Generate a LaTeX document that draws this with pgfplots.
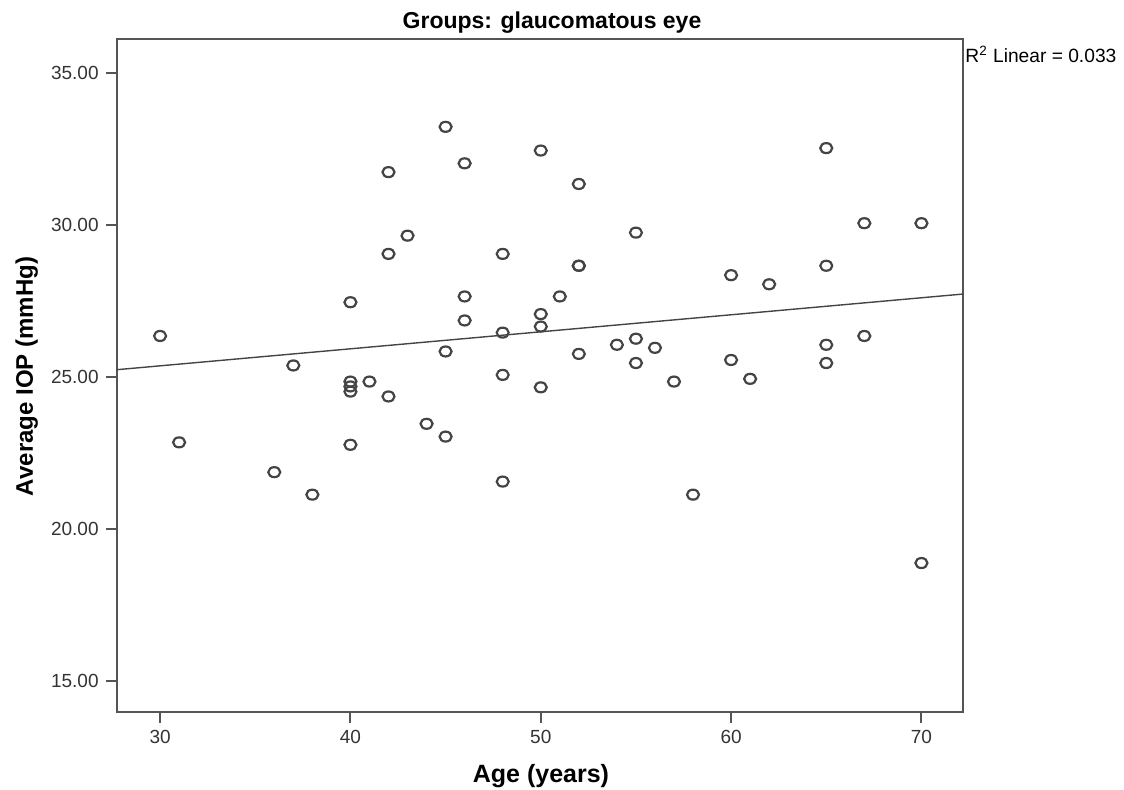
\documentclass[border=0pt]{standalone}
\usepackage{pgfplots}
\pgfplotsset{compat=1.18}
\usepackage{fontspec}
\setmainfont{Liberation Sans}
\definecolor{axgray}{HTML}{555555}
\definecolor{mkgray}{HTML}{444444}
\definecolor{txtgray}{HTML}{333333}

\pgfplotstableread{
x y
30 26.36
31 22.86
36 21.88
37 25.39
38 21.14
40 27.47
40 24.86
40 24.70
40 24.53
40 22.78
41 24.86
42 31.75
42 29.06
42 24.37
43 29.66
44 23.47
45 33.24
45 25.85
45 23.05
46 32.04
46 27.66
46 26.87
48 29.06
48 26.47
48 25.08
48 21.57
50 32.46
50 27.08
50 26.67
50 24.67
51 27.66
52 31.36
52 28.67
52 28.67
52 25.77
54 26.07
55 29.76
55 26.27
55 25.47
56 25.97
57 24.86
58 21.14
60 28.36
60 25.57
61 24.95
62 28.06
65 32.54
65 28.67
65 26.07
65 25.47
67 30.07
67 26.36
70 30.07
70 18.89
}\iopdata

\begin{document}
\begin{tikzpicture}
\useasboundingbox (-58.35pt,-39.15pt) rectangle (503.65pt,355.85pt);
\begin{axis}[
  at={(0pt,0pt)}, anchor=south west,
  scale only axis, width=423.3pt, height=336.2pt,
  xmin=27.72, xmax=72.2, ymin=14.0, ymax=36.12,
  xtick={30,40,50,60,70}, ytick={15,20,25,30,35},
  tick pos=left,
  tick align=outside, major tick length=5.5pt,
  axis line style={axgray, line width=1pt},
  major tick style={axgray, line width=1pt},
  tick label style={font=\fontsize{9.5}{11}\selectfont, text=txtgray},
  /pgf/number format/assume math mode=true,
  yticklabel style={/pgf/number format/fixed, /pgf/number format/fixed zerofill, /pgf/number format/precision=2},
  xticklabel style={/pgf/number format/fixed},
]
\addplot[only marks, mark=o, mark size=2.5pt,
  mark options={xscale=1.2, line width=1.1pt, draw=mkgray}] table[x=x, y=y] {\iopdata};
\addplot[mkgray, line width=0.7pt] coordinates {(27.72,25.25) (72.2,27.74)};
\end{axis}
\node[anchor=base, font=\fontsize{11.5}{13}\selectfont\bfseries] at (217.65pt,341.35pt) {Groups: glaucomatous eye};
\node[anchor=base, font=\fontsize{12.5}{14}\selectfont\bfseries] at (212.15pt,-35.5pt) {Age (years)};
\node[anchor=base, rotate=90, font=\fontsize{12}{14}\selectfont\bfseries] at (-41.85pt,167.6pt) {Average IOP (mmHg)};
\node[anchor=base west, inner sep=0pt, font=\fontsize{9.6}{12}\selectfont] at (424.15pt,324.5pt) {R\textsuperscript{2} Linear = 0.033};
\end{tikzpicture}
\end{document}
